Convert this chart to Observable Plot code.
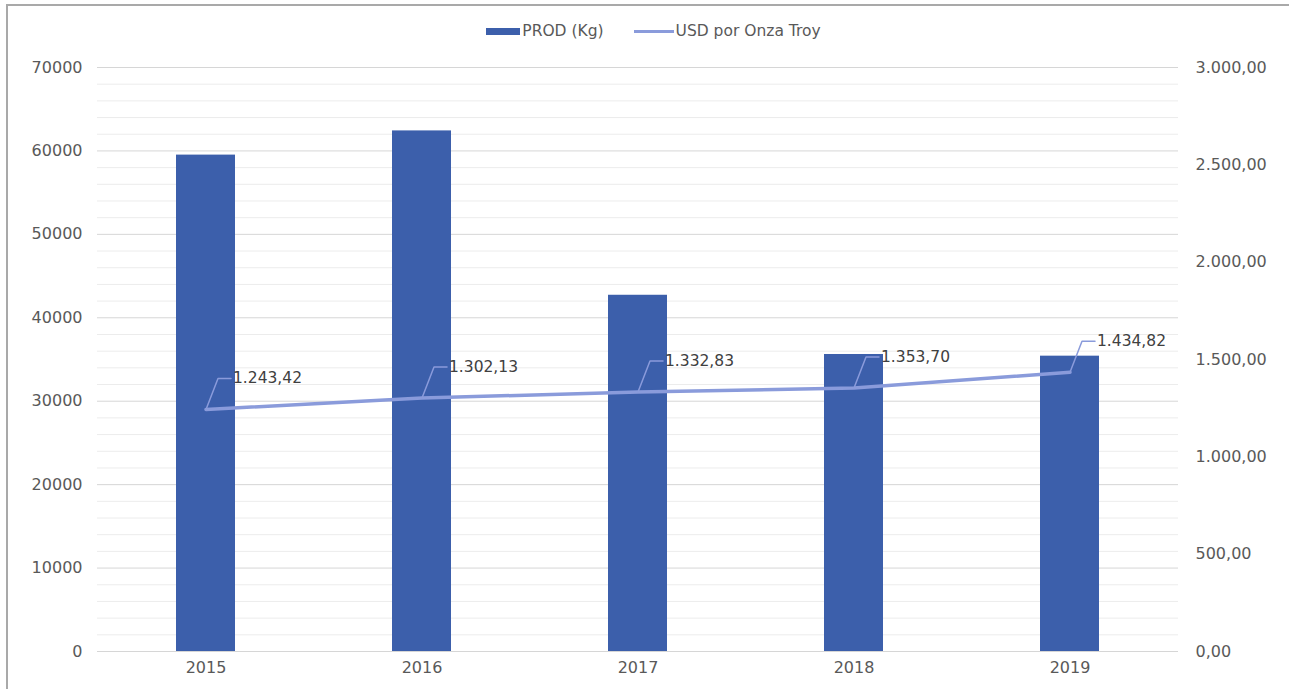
<!DOCTYPE html>
<html>
<head>
<meta charset="utf-8">
<script src="https://cdn.jsdelivr.net/npm/d3@7"></script>
<script src="https://cdn.jsdelivr.net/npm/@observablehq/plot@0.6"></script>
<style>
  html, body { margin: 0; padding: 0; background: #fff; }
  body { width: 1289px; height: 689px; overflow: hidden; position: relative; font-family: "DejaVu Sans", sans-serif; }
  #frame { position: absolute; left: 6px; top: 4px; width: 1290px; height: 700px; border-left: 2px solid #a9a9a9; border-top: 2px solid #a9a9a9; }
  #legend { position: absolute; left: 0; top: 0; width: 1289px; height: 50px; display: flex; justify-content: center; align-items: center; color: #595959; font-size: 15.5px; padding-left: 18px; box-sizing: border-box; padding-top: 12px; }
  .sw-bar { display: inline-block; width: 34px; height: 7px; background: #3c5fab; margin-right: 2px; }
  .sw-line { display: inline-block; width: 40px; height: 3px; background: #8a9bdb; margin-right: 2px; margin-left: 30px; }
  #chart { position: absolute; left: 0; top: 50px; }
</style>
</head>
<body>
<div id="frame"></div>
<div id="legend"><span class="sw-bar"></span><span>PROD (Kg)</span><span class="sw-line"></span><span>USD por Onza Troy</span></div>
<div id="chart"></div>
<script>
const years = ["2015", "2016", "2017", "2018", "2019"];
const prodKg = [59500, 62400, 42700, 35600, 35400];
const usdPorOnza = [1243.42, 1302.13, 1332.83, 1353.70, 1434.82];
const leftTicks = [0, 10000, 20000, 30000, 40000, 50000, 60000, 70000];
const minorTicks = [2000, 4000, 6000, 8000, 12000, 14000, 16000, 18000, 22000, 24000, 26000, 28000, 32000, 34000, 36000, 38000, 42000, 44000, 46000, 48000, 52000, 54000, 56000, 58000, 62000, 64000, 66000, 68000];
const rightTicks = [0, 500, 1000, 1500, 2000, 2500, 3000];

const leftMax = 70000, rightMax = 3000;
const k = leftMax / rightMax;

const data = years.map((y, i) => ({year: y, prod: prodKg[i], usd: usdPorOnza[i]}));

const locale = d3.formatLocale({decimal: ",", thousands: ".", grouping: [3], currency: ["", ""]});
const fmt = locale.format(",.2f");

const barColor = "#3c5fab";
const lineColor = "#8a9bdb";

const leader = {
  draw(context) {
    context.moveTo(0, 0);
    context.lineTo(12, -31);
    context.lineTo(25, -31);
  }
};

const chart = Plot.plot({
  width: 1289,
  height: 639,
  marginTop: 17,
  marginBottom: 38,
  marginLeft: 97,
  marginRight: 111,
  style: {fontFamily: "'DejaVu Sans', sans-serif", fontSize: "16px", color: "#595959", background: "transparent"},
  x: {domain: years, paddingInner: 0.727, paddingOuter: 0.3635, label: null},
  y: {domain: [0, leftMax], label: null},
  marks: [
    Plot.ruleY(minorTicks, {stroke: "#ececec", strokeWidth: 1}),
    Plot.ruleY(leftTicks, {stroke: "#d6d6d6", strokeWidth: 1}),
    Plot.axisY(leftTicks, {anchor: "left", tickSize: 0, tickPadding: 15, label: null, tickFormat: d => String(d)}),
    Plot.axisY(rightTicks.map(v => v * k), {anchor: "right", tickSize: 0, tickPadding: 17, label: null, tickFormat: d => fmt(d / k)}),
    Plot.axisX({tickSize: 0, tickPadding: 10, label: null}),
    Plot.barY(data, {x: "year", y: "prod", fill: barColor}),
    Plot.line(data, {x: "year", y: d => d.usd * k, stroke: lineColor, strokeWidth: 3.5}),
    Plot.vector(data, {x: "year", y: d => d.usd * k, length: 31, rotate: 0, anchor: "start", shape: leader, stroke: lineColor, strokeWidth: 1.5}),
    Plot.text(data, {x: "year", y: d => d.usd * k, text: d => fmt(d.usd), dx: 27, dy: -31, textAnchor: "start", fill: "#404040", fontSize: 15.5})
  ]
});
document.getElementById("chart").appendChild(chart);
</script>
</body>
</html>
